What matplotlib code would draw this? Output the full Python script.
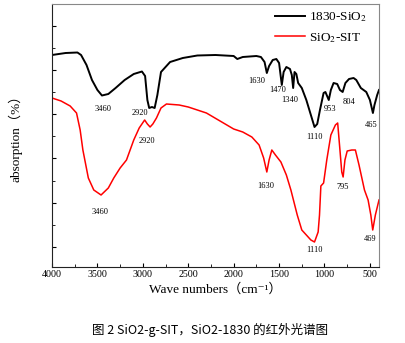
import matplotlib

matplotlib.use("Agg")
import matplotlib.pyplot as plt
from matplotlib.ticker import MultipleLocator

plt.rcParams["font.family"] = ["Liberation Serif", "DejaVu Serif"]
plt.rcParams["mathtext.fontset"] = "stix"

# 1830-SiO2 spectrum (wavenumber, absorption in arbitrary units)
WN_1830 = [4000, 3850, 3720, 3680, 3620, 3560, 3500, 3450, 3380, 3300, 3200, 3100,
           3010, 2975, 2950, 2930, 2900, 2870, 2840, 2800, 2700, 2560, 2400, 2200,
           2000, 1960, 1900, 1750, 1700, 1660, 1635, 1610, 1570, 1530, 1500, 1470,
           1450, 1420, 1380, 1360, 1345, 1330, 1310, 1290, 1250, 1200, 1150, 1110,
           1080, 1050, 1010, 990, 953, 930, 900, 860, 830, 800, 770, 730, 680, 650,
           600, 540, 500, 467, 450, 420, 400]
AB_1830 = [55, 53, 52.5, 55, 65, 80, 90, 95.5, 94, 88, 80, 74,
           71.5, 76, 100, 108, 107, 108, 95, 72, 62, 58, 55.5, 55,
           56, 59, 57, 56, 57, 62, 73, 66, 60, 59, 63, 85,
           72, 67, 69, 75, 88, 72, 74, 83, 88, 100, 115, 127,
           124, 110, 93, 92, 100, 90, 83, 84, 90, 92, 83, 79, 78, 80,
           88, 92, 100, 113, 105, 95, 90]

# SiO2-SIT spectrum
WN_SIT = [4000, 3900, 3800, 3730, 3690, 3660, 3600, 3540, 3460, 3380, 3320, 3250,
          3180, 3100, 3040, 2980, 2950, 2920, 2890, 2850, 2800, 2740, 2600, 2500,
          2300, 2150, 2000, 1900, 1800, 1720, 1670, 1635, 1610, 1580, 1540, 1480,
          1420, 1370, 1300, 1250, 1200, 1150, 1110, 1070, 1055, 1040, 1010, 975,
          930, 880, 855, 830, 810, 795, 775, 750, 700, 660, 620, 560, 520, 490,
          469, 440, 400]
AB_SIT = [98, 101, 106, 113, 130, 150, 178, 190, 195, 188, 178, 168,
          160, 140, 128, 120, 124, 127, 124, 118, 108, 104, 105, 107,
          113, 121, 129, 132, 137, 145, 158, 172, 160, 150, 155, 162,
          175, 190, 215, 230, 235, 240, 242, 232, 215, 186, 183, 160,
          135, 125, 123, 150, 172, 177, 160, 151, 150, 150, 165, 190, 200, 215,
          230, 215, 200]

# peak labels: (text, wavenumber, level)
PEAKS_1830 = [("3460", 3439, 109), ("2920", 3031, 113), ("1630", 1744, 81),
              ("1470", 1513, 90), ("1340", 1381, 100), ("1110", 1105, 137),
              ("953", 940, 109), ("804", 731, 102), ("465", 489, 125)]
PEAKS_SIT = [("2920", 2954, 141), ("3460", 3472, 212), ("1630", 1645, 186),
             ("1110", 1105, 250), ("795", 797, 187), ("469", 500, 239)]

TOP = 267  # levels above are measured downward from the plot top
LABEL_FONTS = ["Liberation Serif", "Noto Sans CJK SC", "DejaVu Sans"]


def main():
    fig = plt.figure(figsize=(4.06, 3.43), dpi=100)
    ax = fig.add_axes([52 / 406, 76 / 343, 327 / 406, 263 / 343])

    ax.plot(WN_1830, [TOP - v for v in AB_1830], color="black", lw=1.4,
            label="1830-SiO$_2$")
    ax.plot(WN_SIT, [TOP - v for v in AB_SIT], color="#ff0000", lw=1.1,
            label="SiO$_2$-SIT")
    for txt, x, y in PEAKS_1830 + PEAKS_SIT:
        ax.text(x, TOP - y, txt, fontsize=6, ha="center", va="center")

    ax.set_xlim(4000, 400)
    ax.set_ylim(0, 263)
    ax.xaxis.set_major_locator(MultipleLocator(500))
    ax.xaxis.set_minor_locator(MultipleLocator(250))
    ax.set_yticks([20, 64, 109, 153, 197, 241])
    ax.set_yticks([42, 86, 131, 175, 219], minor=True)
    ax.set_yticklabels([])
    ax.tick_params(which="both", direction="in", labelsize=7.2, pad=2)
    ax.tick_params(which="major", length=3, width=0.8)
    ax.tick_params(which="minor", length=2, width=0.6)
    for side in ("top", "right"):
        ax.spines[side].set_color("#888888")
    for side in ("left", "bottom"):
        ax.spines[side].set_color("#222222")

    ax.set_xlabel("Wave numbers\uff08cm\u207b\u00b9\uff09", fontsize=9.5,
                  labelpad=3, family=LABEL_FONTS)
    ax.set_ylabel("absorption\uff08%\uff09", fontsize=9.5, labelpad=19,
                  family=LABEL_FONTS)
    ax.legend(loc="upper right", frameon=False, fontsize=9.5, handlelength=2.3,
              handletextpad=0.3, labelspacing=0.5, borderaxespad=0.1,
              bbox_to_anchor=(0.985, 1.0))

    fig.text(0.517, 13 / 343, "图 2 SiO2-g-SIT，SiO2-1830 的红外光谱图",
             fontsize=9, ha="center", va="center",
             family=["Noto Sans CJK SC", "DejaVu Sans"])
    fig.savefig("out.png", dpi=100)
    plt.close(fig)


if __name__ == "__main__":
    main()
